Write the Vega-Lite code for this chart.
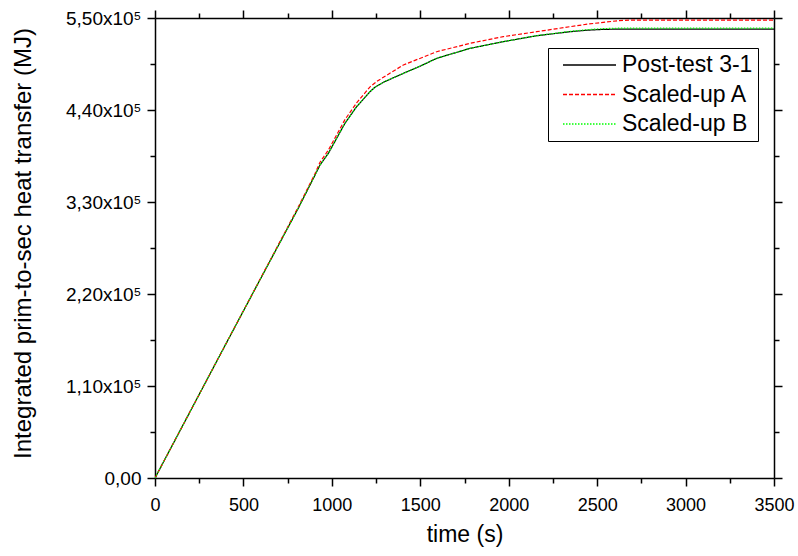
{
  "$schema": "https://vega.github.io/schema/vega-lite/v6.json",
  "width": 619,
  "height": 460,
  "autosize": {"type": "none"},
  "padding": {"left": 155, "top": 18, "right": 24, "bottom": 78},
  "background": "white",
  "config": {
    "view": {"stroke": null},
    "font": "Liberation Sans",
    "axis": {"grid": false, "domainColor": "black", "domainWidth": 1.5, "tickColor": "black", "tickWidth": 1.5, "labelColor": "black", "titleColor": "black", "labelFont": "Liberation Sans", "titleFont": "Liberation Sans", "titleFontWeight": "normal"}
  },
  "data": {"values": [
    {"time": 0, "value": 0, "series": "Post-test 3-1"},
    {"time": 200, "value": 80000, "series": "Post-test 3-1"},
    {"time": 400, "value": 160000, "series": "Post-test 3-1"},
    {"time": 600, "value": 239500, "series": "Post-test 3-1"},
    {"time": 810, "value": 322500, "series": "Post-test 3-1"},
    {"time": 905, "value": 362300, "series": "Post-test 3-1"},
    {"time": 933, "value": 374200, "series": "Post-test 3-1"},
    {"time": 980, "value": 388200, "series": "Post-test 3-1"},
    {"time": 1074, "value": 424100, "series": "Post-test 3-1"},
    {"time": 1140, "value": 444000, "series": "Post-test 3-1"},
    {"time": 1216, "value": 462000, "series": "Post-test 3-1"},
    {"time": 1245, "value": 467500, "series": "Post-test 3-1"},
    {"time": 1300, "value": 474000, "series": "Post-test 3-1"},
    {"time": 1404, "value": 483800, "series": "Post-test 3-1"},
    {"time": 1500, "value": 492500, "series": "Post-test 3-1"},
    {"time": 1593, "value": 501800, "series": "Post-test 3-1"},
    {"time": 1781, "value": 513700, "series": "Post-test 3-1"},
    {"time": 1969, "value": 521700, "series": "Post-test 3-1"},
    {"time": 2158, "value": 528800, "series": "Post-test 3-1"},
    {"time": 2346, "value": 533600, "series": "Post-test 3-1"},
    {"time": 2450, "value": 535500, "series": "Post-test 3-1"},
    {"time": 2535, "value": 536400, "series": "Post-test 3-1"},
    {"time": 2620, "value": 536700, "series": "Post-test 3-1"},
    {"time": 2700, "value": 536800, "series": "Post-test 3-1"},
    {"time": 3500, "value": 536800, "series": "Post-test 3-1"},

    {"time": 0, "value": 0, "series": "Scaled-up A"},
    {"time": 200, "value": 80000, "series": "Scaled-up A"},
    {"time": 400, "value": 160000, "series": "Scaled-up A"},
    {"time": 600, "value": 240000, "series": "Scaled-up A"},
    {"time": 810, "value": 324000, "series": "Scaled-up A"},
    {"time": 905, "value": 364000, "series": "Scaled-up A"},
    {"time": 933, "value": 377500, "series": "Scaled-up A"},
    {"time": 980, "value": 392000, "series": "Scaled-up A"},
    {"time": 1074, "value": 428500, "series": "Scaled-up A"},
    {"time": 1140, "value": 448500, "series": "Scaled-up A"},
    {"time": 1216, "value": 467700, "series": "Scaled-up A"},
    {"time": 1260, "value": 475000, "series": "Scaled-up A"},
    {"time": 1404, "value": 493800, "series": "Scaled-up A"},
    {"time": 1593, "value": 509700, "series": "Scaled-up A"},
    {"time": 1781, "value": 519700, "series": "Scaled-up A"},
    {"time": 1969, "value": 527700, "series": "Scaled-up A"},
    {"time": 2158, "value": 533600, "series": "Scaled-up A"},
    {"time": 2346, "value": 539600, "series": "Scaled-up A"},
    {"time": 2450, "value": 542800, "series": "Scaled-up A"},
    {"time": 2535, "value": 544800, "series": "Scaled-up A"},
    {"time": 2620, "value": 546800, "series": "Scaled-up A"},
    {"time": 2690, "value": 547500, "series": "Scaled-up A"},
    {"time": 3500, "value": 547500, "series": "Scaled-up A"},

    {"time": 0, "value": 0, "series": "Scaled-up B"},
    {"time": 200, "value": 80000, "series": "Scaled-up B"},
    {"time": 400, "value": 160000, "series": "Scaled-up B"},
    {"time": 600, "value": 239500, "series": "Scaled-up B"},
    {"time": 810, "value": 322500, "series": "Scaled-up B"},
    {"time": 905, "value": 362300, "series": "Scaled-up B"},
    {"time": 933, "value": 374200, "series": "Scaled-up B"},
    {"time": 980, "value": 388200, "series": "Scaled-up B"},
    {"time": 1074, "value": 424100, "series": "Scaled-up B"},
    {"time": 1140, "value": 444000, "series": "Scaled-up B"},
    {"time": 1216, "value": 462000, "series": "Scaled-up B"},
    {"time": 1245, "value": 467500, "series": "Scaled-up B"},
    {"time": 1300, "value": 474000, "series": "Scaled-up B"},
    {"time": 1404, "value": 483800, "series": "Scaled-up B"},
    {"time": 1500, "value": 492500, "series": "Scaled-up B"},
    {"time": 1593, "value": 501800, "series": "Scaled-up B"},
    {"time": 1781, "value": 513700, "series": "Scaled-up B"},
    {"time": 1969, "value": 521700, "series": "Scaled-up B"},
    {"time": 2158, "value": 528900, "series": "Scaled-up B"},
    {"time": 2346, "value": 534000, "series": "Scaled-up B"},
    {"time": 2450, "value": 536200, "series": "Scaled-up B"},
    {"time": 2535, "value": 537300, "series": "Scaled-up B"},
    {"time": 2620, "value": 537800, "series": "Scaled-up B"},
    {"time": 2700, "value": 538000, "series": "Scaled-up B"},
    {"time": 3500, "value": 538000, "series": "Scaled-up B"}
  ]},
  "layer": [
    {
      "mark": {"type": "line", "strokeWidth": 1.2, "clip": true},
      "encoding": {
        "x": {"field": "time", "type": "quantitative", "scale": {"domain": [0, 3500], "nice": false, "zero": false},
          "axis": {"orient": "bottom", "title": "time (s)", "titleFontSize": 23, "titleY": 63, "titleBaseline": "alphabetic",
            "values": [0, 250, 500, 750, 1000, 1250, 1500, 1750, 2000, 2250, 2500, 2750, 3000, 3250, 3500],
            "labelExpr": "datum.value % 500 === 0 ? format(datum.value, 'd') : ''",
            "tickSize": {"condition": {"test": "datum.value % 500 === 0", "value": 8}, "value": 5},
            "labelFontSize": 18, "labelPadding": 10, "labelFlush": false, "labelOverlap": false}},
        "y": {"field": "value", "type": "quantitative", "scale": {"domain": [0, 550000], "nice": false},
          "axis": {"orient": "left", "title": "Integrated prim-to-sec heat transfer (MJ)", "titleFontSize": 24,
            "titleAngle": -90, "titleX": -125, "titleY": 225, "titleAlign": "center", "titleBaseline": "alphabetic",
            "values": [0, 55000, 110000, 165000, 220000, 275000, 330000, 385000, 440000, 495000, 550000],
            "labelExpr": "datum.value % 110000 === 0 ? (datum.value === 0 ? '0,00' : replace(format(datum.value / 100000, '.2f'), '.', ',') + 'x10⁵') : ''",
            "tickSize": {"condition": {"test": "datum.value % 110000 === 0", "value": 8}, "value": 5},
            "labelFontSize": 19, "labelPadding": 6, "labelFlush": false, "labelOverlap": false}},
        "color": {"field": "series", "type": "nominal",
          "scale": {"domain": ["Post-test 3-1", "Scaled-up A", "Scaled-up B"], "range": ["#000000", "#ff0000", "#00ff00"]},
          "legend": {"orient": "none", "legendX": 393, "legendY": 30, "title": null, "strokeColor": "#000000", "fillColor": "white",
            "padding": 5, "symbolType": "stroke", "symbolSize": 2809, "symbolStrokeWidth": 1.5, "symbolOffset": 9, "labelFontSize": 23,
            "labelFont": "Liberation Sans", "labelColor": "black", "labelOffset": 5, "labelExpr": "datum.label + '  '",
            "clipHeight": 24, "rowPadding": 5.5, "cornerRadius": 0, "labelLimit": 300}},
        "strokeDash": {"field": "series", "type": "nominal",
          "scale": {"domain": ["Post-test 3-1", "Scaled-up A", "Scaled-up B"], "range": [[1, 0], [4, 2], [1.5, 1.5]]},
          "legend": null}
      }
    },
    {
      "mark": {"type": "line", "opacity": 0},
      "encoding": {
        "x": {"field": "time", "type": "quantitative",
          "axis": {"orient": "top", "title": null, "labels": false,
            "values": [0, 250, 500, 750, 1000, 1250, 1500, 1750, 2000, 2250, 2500, 2750, 3000, 3250, 3500],
            "tickSize": {"condition": {"test": "datum.value % 500 === 0", "value": 8}, "value": 5}}},
        "y": {"field": "value", "type": "quantitative",
          "axis": {"orient": "right", "title": null, "labels": false,
            "values": [0, 55000, 110000, 165000, 220000, 275000, 330000, 385000, 440000, 495000, 550000],
            "tickSize": {"condition": {"test": "datum.value % 110000 === 0", "value": 8}, "value": 5}}},
        "detail": {"field": "series", "type": "nominal"}
      }
    }
  ],
  "resolve": {"axis": {"x": "independent", "y": "independent"}}
}
